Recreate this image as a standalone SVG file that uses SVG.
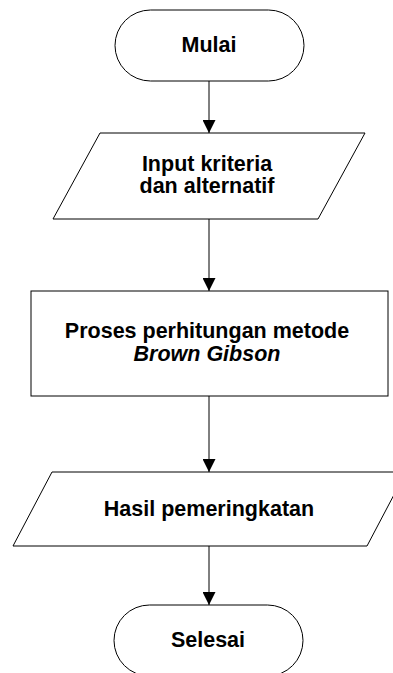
<svg xmlns="http://www.w3.org/2000/svg" width="393" height="673" viewBox="0 0 393 673">
<style>
.s{fill:#fff;stroke:#000;stroke-width:1}
.t{font-family:"Liberation Sans",Arial,sans-serif;font-weight:bold;font-size:21.5px;text-anchor:middle;fill:#000}
.c{stroke:#000;stroke-width:1;fill:none}
</style>
<defs>
<marker id="ah" markerWidth="13" markerHeight="13" refX="13" refY="6.5" orient="auto" markerUnits="userSpaceOnUse">
<path d="M0,0 L13,6.5 L0,13 Z" fill="#000"/>
</marker>
</defs>
<rect width="393" height="673" fill="#fff"/>
<g id="connectors">
<line class="c" x1="209" y1="81" x2="209" y2="133" marker-end="url(#ah)"/>
<line class="c" x1="209" y1="219" x2="209" y2="291" marker-end="url(#ah)"/>
<line class="c" x1="209" y1="396" x2="209" y2="472" marker-end="url(#ah)"/>
<line class="c" x1="209" y1="546" x2="209" y2="605" marker-end="url(#ah)"/>
</g>
<g id="mulai">
<rect class="s" x="115" y="10" width="189" height="71" rx="35.5" ry="35.5"/>
<text class="t" x="209" y="52">Mulai</text>
</g>
<g id="input">
<polygon class="s" points="100,133 365,133 318,219 53,219"/>
<text class="t" x="207" y="171">Input kriteria</text>
<text class="t" x="207" y="193">dan alternatif</text>
</g>
<g id="proses">
<rect class="s" x="31" y="291" width="357" height="105"/>
<text class="t" x="207" y="338">Proses perhitungan metode</text>
<text class="t" x="207" y="361" font-style="italic">Brown Gibson</text>
</g>
<g id="hasil">
<polygon class="s" points="52,472 406,472 367,546 13,546"/>
<text class="t" x="209" y="516">Hasil pemeringkatan</text>
</g>
<g id="selesai">
<rect class="s" x="114" y="605" width="189" height="71" rx="35.5" ry="35.5"/>
<text class="t" x="208" y="647">Selesai</text>
</g>
</svg>
